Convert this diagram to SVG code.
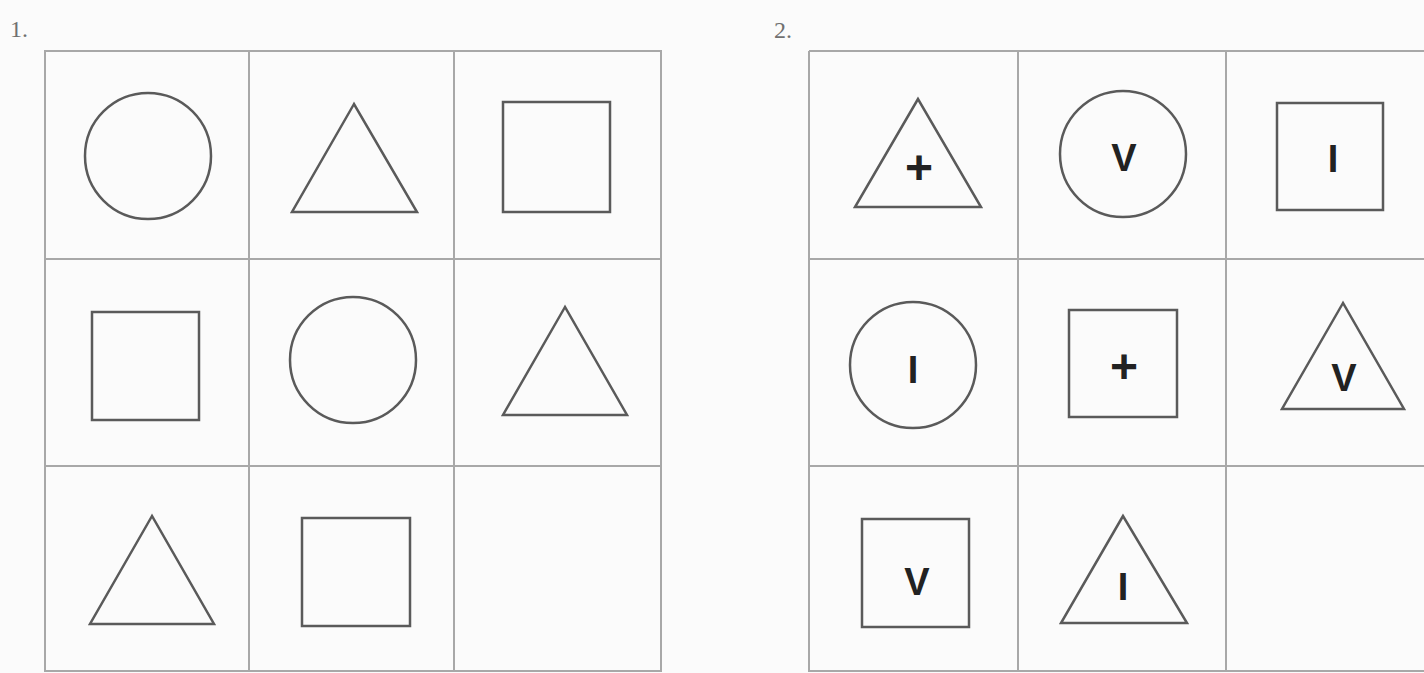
<svg xmlns="http://www.w3.org/2000/svg" width="1424" height="673" viewBox="0 0 1424 673">
<style>
.grid{fill:none;stroke:#a8a8a8;stroke-width:2}
.sh{fill:none;stroke:#5a5a5a;stroke-width:2.5}
.num{font-family:"Liberation Serif",serif;font-size:24px;fill:#707070}
.lt{font-family:"Liberation Sans",Arial,sans-serif;font-weight:bold;font-size:38px;fill:#222;text-anchor:middle}
.pl{font-family:"Liberation Sans",Arial,sans-serif;font-weight:bold;font-size:48px;fill:#222;text-anchor:middle}
</style>
<rect width="1424" height="673" fill="#fbfbfb"/>
<text class="num" x="10" y="37">1.</text>
<text class="num" x="774" y="38">2.</text>
<g id="grid1">
<path class="grid" d="M45 51H661V671H45Z M249 51V671 M454 51V671 M45 259H661 M45 466H661"/>
</g>
<g id="grid2">
<path class="grid" d="M809 51H1424 M809 51V671H1424 M1018 51V671 M1226 51V671 M809 259H1424 M809 466H1424"/>
</g>
<g id="p1-r1c1"><circle class="sh" cx="148" cy="156" r="63"/></g>
<g id="p1-r1c2"><polygon class="sh" points="354,104 292,212 417,212"/></g>
<g id="p1-r1c3"><rect class="sh" x="503" y="102" width="107" height="110"/></g>
<g id="p1-r2c1"><rect class="sh" x="92" y="312" width="107" height="108"/></g>
<g id="p1-r2c2"><circle class="sh" cx="353" cy="360" r="63"/></g>
<g id="p1-r2c3"><polygon class="sh" points="565,307 503,415 627,415"/></g>
<g id="p1-r3c1"><polygon class="sh" points="152,516 90,624 214,624"/></g>
<g id="p1-r3c2"><rect class="sh" x="302" y="518" width="108" height="108"/></g>
<g id="p2-r1c1"><polygon class="sh" points="918,99 855,207 981,207"/><text class="pl" x="919" y="184">+</text></g>
<g id="p2-r1c2"><circle class="sh" cx="1123" cy="154" r="63"/><text class="lt" x="1124" y="171">V</text></g>
<g id="p2-r1c3"><rect class="sh" x="1277" y="103" width="106" height="107"/><text class="lt" x="1333" y="172">I</text></g>
<g id="p2-r2c1"><circle class="sh" cx="913" cy="365" r="63"/><text class="lt" x="913" y="383">I</text></g>
<g id="p2-r2c2"><rect class="sh" x="1069" y="310" width="108" height="107"/><text class="pl" x="1124" y="383">+</text></g>
<g id="p2-r2c3"><polygon class="sh" points="1343,303 1282,409 1404,409"/><text class="lt" x="1344" y="391">V</text></g>
<g id="p2-r3c1"><rect class="sh" x="862" y="519" width="107" height="108"/><text class="lt" x="917" y="595">V</text></g>
<g id="p2-r3c2"><polygon class="sh" points="1123,516 1061,623 1187,623"/><text class="lt" x="1123" y="600">I</text></g>
</svg>
